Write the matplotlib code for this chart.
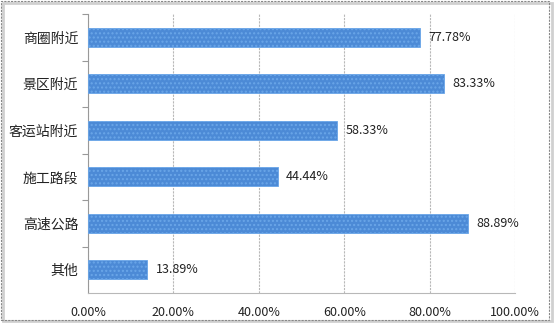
import matplotlib.pyplot as plt
from matplotlib.patches import Rectangle
from matplotlib.ticker import FuncFormatter

plt.rcParams['font.family'] = ['Noto Sans CJK SC', 'DejaVu Sans']

# Shares per location type, top to bottom
categories = ['商圈附近', '景区附近', '客运站附近', '施工路段', '高速公路', '其他']
shares = [77.78, 83.33, 58.33, 44.44, 88.89, 13.89]
xticks = [0, 20, 40, 60, 80, 100]

fig = plt.figure(figsize=(5.54, 3.24), dpi=100)
ax = fig.add_axes([88 / 554, 1 - 293 / 324, (515 - 88) / 554, (293 - 14) / 324])

ypos = list(range(len(categories)))[::-1]
ax.barh(ypos, shares, height=0.41, color='#4c8ad6', edgecolor='#6aa6e8',
        linewidth=0.6, hatch='....', zorder=3)
for y, v in zip(ypos, shares):
    ax.annotate(f'{v:.2f}%', (v, y), xytext=(6, 0), textcoords='offset points',
                va='center', ha='left', fontsize=9, color='#222222')

ax.set_xlim(0, 100)
ax.set_ylim(-0.5, len(categories) - 0.5)
ax.set_xticks(xticks)
ax.xaxis.set_major_formatter(FuncFormatter(lambda v, p: f'{v:.2f}%'))
ax.set_yticks(ypos)
ax.set_yticklabels(categories)
ax.set_yticks([y + 0.5 for y in range(len(categories))], minor=True)
ax.tick_params(axis='y', which='major', length=0, pad=7, labelsize=10,
               labelcolor='#222222')
ax.tick_params(axis='y', which='minor', length=4, color='#999999', width=0.8)
ax.tick_params(axis='x', length=0, pad=9, labelsize=9, labelcolor='#222222')

ax.grid(axis='x', color='#b8b8b8', linestyle=(0, (2, 1)), linewidth=0.8, zorder=0)
for side in ['top', 'right']:
    ax.spines[side].set_visible(False)
ax.spines['bottom'].set_color('#b8b8b8')
ax.spines['bottom'].set_linestyle((0, (2, 1)))
ax.spines['bottom'].set_linewidth(0.8)
ax.spines['left'].set_color('#999999')
ax.spines['left'].set_linewidth(0.8)

# outer frame with a light shadow on the right and bottom
fig.patches.append(Rectangle((3 / 554, 3 / 324), 549 / 554, 318 / 324,
                             transform=fig.transFigure, fill=False,
                             edgecolor='#d0d0d0', linewidth=2, zorder=0))
fig.patches.append(Rectangle((1 / 554, 4 / 324), 548 / 554, 319 / 324,
                             transform=fig.transFigure, fill=False,
                             edgecolor='#888888', linewidth=0.8,
                             linestyle=(0, (2, 1)), zorder=1))

fig.savefig('out.png', dpi=100)
